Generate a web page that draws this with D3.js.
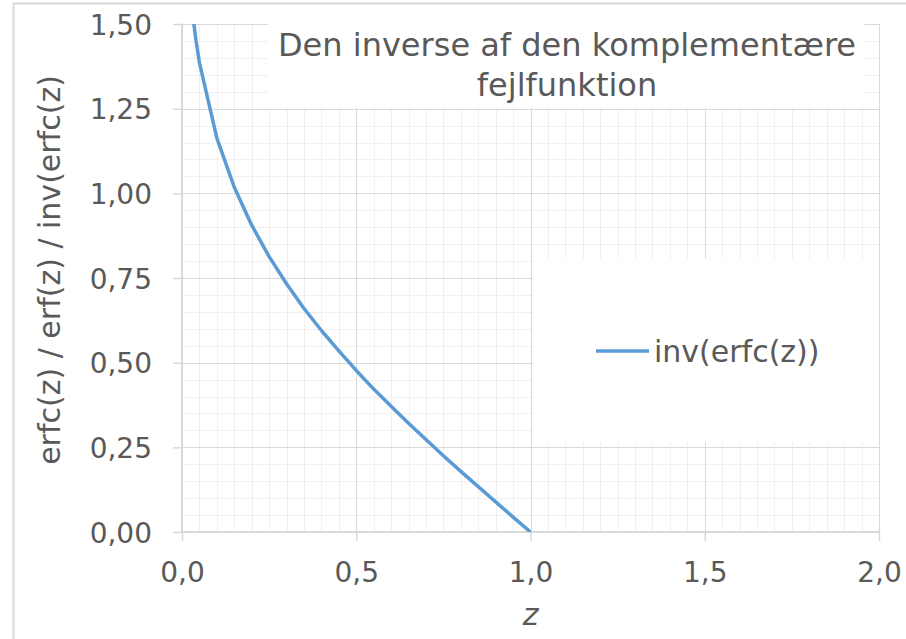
<!DOCTYPE html>
<html>
<head>
<meta charset="utf-8">
<script src="https://cdn.jsdelivr.net/npm/d3@7"></script>
<style>
  body { margin: 0; background: #fff; }
  text { font-family: "DejaVu Sans", Verdana, sans-serif; fill: #595959; }
</style>
</head>
<body>
<div id="viz"></div>
<script>
// data: z and inv(erfc(z))
const zValues = [0.01, 0.02, 0.03, 0.04, 0.05, 0.1, 0.15, 0.2, 0.25, 0.3, 0.35, 0.4, 0.45, 0.5,
  0.55, 0.6, 0.65, 0.7, 0.75, 0.8, 0.85, 0.9, 0.95, 1.0];
const invErfc = [1.82, 1.645, 1.534, 1.452, 1.386, 1.163, 1.018, 0.906, 0.813, 0.733, 0.660, 0.595, 0.535, 0.477,
  0.422, 0.371, 0.321, 0.273, 0.225, 0.179, 0.134, 0.089, 0.044, 0];
const xTicks = [0, 0.5, 1, 1.5, 2];
const yTicks = [0, 0.25, 0.5, 0.75, 1, 1.25, 1.5];
const seriesName = 'inv(erfc(z))';
const titleLines = ['Den inverse af den komplementære', 'fejlfunktion'];

const W = 906, H = 639,
  plot = { left: 182, right: 879, top: 24, bottom: 532 };

const comma = d3.formatLocale({ decimal: ',', thousands: '.', grouping: [3], currency: ['', ''] });
const fx = comma.format('.1f'), fy = comma.format('.2f');

const svg = d3.select('#viz').append('svg')
  .attr('width', W)
  .attr('height', H);

// chart area border (cut off at right/bottom like the screenshot)
svg.append('rect')
  .attr('x', 13.5).attr('y', 3.5)
  .attr('width', W + 20).attr('height', H + 20)
  .attr('fill', '#fff')
  .attr('stroke', '#d9d9d9')
  .attr('stroke-width', 2);

const x = d3.scaleLinear().domain([0, 2]).range([plot.left, plot.right]);
const y = d3.scaleLinear().domain([0, 1.5]).range([plot.bottom, plot.top]);

const grid = svg.append('g');

// minor grid
grid.selectAll('.vminor')
  .data(d3.range(1, 40).map(i => i * 0.05))
  .enter().append('line')
  .attr('x1', d => Math.round(x(d)) + 0.5).attr('x2', d => Math.round(x(d)) + 0.5)
  .attr('y1', plot.top).attr('y2', plot.bottom)
  .attr('stroke', '#f0f0f0');

grid.selectAll('.hminor')
  .data(d3.range(1, 30).map(i => i * 0.05))
  .enter().append('line')
  .attr('y1', d => Math.round(y(d)) + 0.5).attr('y2', d => Math.round(y(d)) + 0.5)
  .attr('x1', plot.left).attr('x2', plot.right)
  .attr('stroke', '#f0f0f0');

// major grid
grid.selectAll('.vmajor')
  .data(xTicks.slice(1))
  .enter().append('line')
  .attr('x1', d => Math.round(x(d)) + 0.5).attr('x2', d => Math.round(x(d)) + 0.5)
  .attr('y1', plot.top).attr('y2', plot.bottom)
  .attr('stroke', '#d9d9d9');

grid.selectAll('.hmajor')
  .data(yTicks.slice(1))
  .enter().append('line')
  .attr('y1', d => Math.round(y(d)) + 0.5).attr('y2', d => Math.round(y(d)) + 0.5)
  .attr('x1', plot.left).attr('x2', plot.right)
  .attr('stroke', '#d9d9d9');

// axes
const xAxis = svg.append('g')
  .attr('transform', 'translate(0,' + plot.bottom + ')')
  .call(d3.axisBottom(x).tickValues(xTicks).tickFormat(fx).tickSize(9).tickPadding(21));

const yAxis = svg.append('g')
  .attr('transform', 'translate(' + plot.left + ',0)')
  .call(d3.axisLeft(y).tickValues(yTicks).tickFormat(fy).tickSize(9).tickPadding(21));

[xAxis, yAxis].forEach(a => {
  a.select('.domain').attr('stroke', '#d9d9d9').attr('stroke-width', 2);
  a.selectAll('.tick line').attr('stroke', '#d9d9d9').attr('stroke-width', 1.5);
  a.selectAll('.tick text')
    .attr('fill', '#595959')
    .style('font-family', '"DejaVu Sans", Verdana, sans-serif')
    .style('font-size', '28px');
});
xAxis.select('.domain').attr('d', 'M' + plot.left + ',0H' + plot.right);
yAxis.select('.domain').attr('d', 'M0,' + plot.top + 'V' + plot.bottom);
yAxis.selectAll('.tick text').attr('dy', '0.36em');

// line, clipped to the plot area
svg.append('clipPath').attr('id', 'clip')
  .append('rect')
  .attr('x', plot.left).attr('y', plot.top)
  .attr('width', plot.right - plot.left).attr('height', plot.bottom - plot.top);

const line = d3.line()
  .x((d, i) => x(zValues[i]))
  .y(d => y(d));

svg.append('path')
  .datum(invErfc)
  .attr('clip-path', 'url(#clip)')
  .attr('d', line)
  .attr('fill', 'none')
  .attr('stroke', '#5b9bd5')
  .attr('stroke-width', 3.5)
  .attr('stroke-linejoin', 'round');

// title box
svg.append('rect')
  .attr('x', 268).attr('y', plot.top)
  .attr('width', 596).attr('height', 84)
  .attr('fill', '#fff');

svg.append('text')
  .attr('x', 567).attr('y', 56)
  .attr('text-anchor', 'middle')
  .style('font-size', '32px')
  .selectAll('tspan')
  .data(titleLines)
  .enter().append('tspan')
  .attr('x', 567)
  .attr('dy', (d, i) => i === 0 ? 0 : 40)
  .text(d => d);

// legend box
svg.append('rect')
  .attr('x', 533).attr('y', 259)
  .attr('width', plot.right - 533).attr('height', 183)
  .attr('fill', '#fff');

svg.append('line')
  .attr('x1', 596).attr('x2', 649)
  .attr('y1', 351).attr('y2', 351)
  .attr('stroke', '#5b9bd5')
  .attr('stroke-width', 3.5);

svg.append('text')
  .attr('x', 654).attr('y', 362)
  .style('font-size', '30px')
  .text(seriesName);

// axis titles
svg.append('text')
  .attr('x', x(1)).attr('y', 625)
  .attr('text-anchor', 'middle')
  .style('font-size', '30px')
  .style('font-style', 'italic')
  .text('z');

svg.append('text')
  .attr('transform', 'translate(60,270) rotate(-90)')
  .attr('text-anchor', 'middle')
  .style('font-size', '30px')
  .text('erfc(z) / erf(z) / inv(erfc(z)');
</script>
</body>
</html>
